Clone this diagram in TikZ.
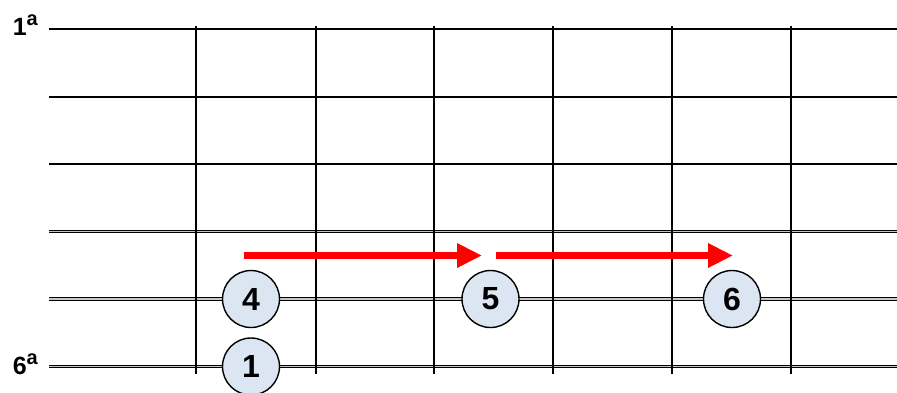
\documentclass[tikz,border=0pt]{standalone}
\usepackage{fontspec}
\setmainfont{Liberation Sans}
\usetikzlibrary{arrows.meta, positioning}
\definecolor{fingerblue}{HTML}{DCE6F2}
\definecolor{slide}{HTML}{FF0000}
\newcommand{\ordsup}{\raisebox{10pt}{\fontsize{20}{20}\selectfont a}}

\begin{document}
\begin{tikzpicture}[
  x=1pt, y=-1pt,
  plain/.style={line width=2pt, black},
  wound/.style={line width=1pt, draw=black, double=gray!45, double distance=1.6pt},
  fret/.style={line width=2pt, black},
  finger/.style={circle, draw=black, line width=1.4pt, fill=fingerblue, minimum size=57pt, inner sep=0pt, font=\fontsize{32}{32}\selectfont\bfseries},
  strlab/.style={font=\fontsize{25}{25}\selectfont\bfseries, inner sep=0pt},
  move/.style={-{Triangle[length=25pt, width=23pt]}, line width=7.5pt, slide}
]
\useasboundingbox (0,0) rectangle (897,392);

% strings
\coordinate (s1) at (49,29);
\coordinate (s6) at (49,366.5);
\draw[plain] (s1) -- (897,29);
\draw[plain] (49,96.5) -- (897,96.5);
\draw[plain] (49,164) -- (897,164);
\draw[wound] (49,231.5) -- (897,231.5);
\draw[wound] (49,299) -- (897,299);
\draw[wound] (s6) -- (897,366.5);

% frets
\draw[fret] (196,26) -- (196,374);
\draw[fret] (316,26) -- (316,374);
\draw[fret] (434,26) -- (434,374);
\draw[fret] (553,26) -- (553,374);
\draw[fret] (672,26) -- (672,374);
\draw[fret] (791,26) -- (791,374);

\node[strlab, left=11pt of s1, yshift=3.5pt] (lab1) {1\ordsup};
\node[strlab, left=11pt of s6, yshift=2pt] (lab6) {6\ordsup};

% fingers
\node[finger] (f4) at (251,299) {4};
\node[finger] (f5) at (490.5,299) {5};
\node[finger] (f6) at (732,299) {6};
\node[finger] (f1) at (251,366.5) {1};

\draw[move] ([xshift=-7pt,yshift=43.5pt]f4.center) -- ([xshift=-8.5pt,yshift=43.5pt]f5.center);
\draw[move] ([xshift=5.5pt,yshift=43.5pt]f5.center) -- ([xshift=1pt,yshift=43.5pt]f6.center);
\end{tikzpicture}
\end{document}
